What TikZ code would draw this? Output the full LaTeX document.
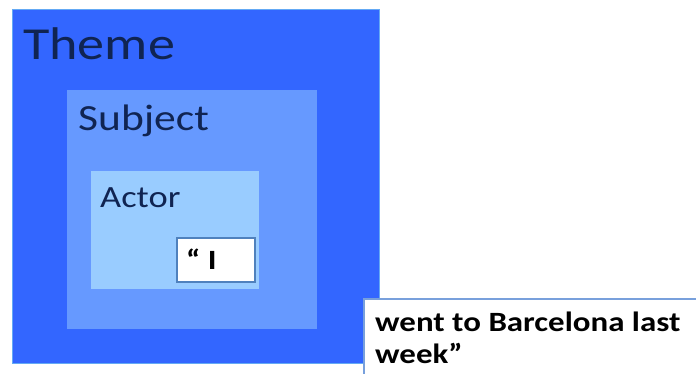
\documentclass[tikz,border=0pt]{standalone}
\usepackage{fontspec}
\setmainfont{Carlito}[FakeStretch=1.18]
\definecolor{themefill}{RGB}{51,102,255}
\definecolor{themeedge}{RGB}{100,170,245}
\definecolor{subjfill}{RGB}{102,153,255}
\definecolor{actfill}{RGB}{153,204,255}
\definecolor{labtext}{RGB}{16,36,82}
\definecolor{boxedge}{RGB}{79,129,189}
\definecolor{textedge}{RGB}{120,160,220}
\tikzset{
  area/.style={anchor=north west, inner sep=0pt, outer sep=0pt},
  lab/.style={anchor=base west, inner sep=0pt, text=labtext},
}
\begin{document}
\begin{tikzpicture}[x=1bp,y=-1bp]
\useasboundingbox (0,0) rectangle (696,373);
\fill[white] (0,0) rectangle (696,373);
\node (theme) [area, fill=themefill, draw=themeedge, line width=1bp, minimum width=367bp, minimum height=354bp] at (12,9) {};
\node (subject) [area, fill=subjfill, minimum width=250bp, minimum height=239bp] at (67,90) {};
\node (actor) [area, fill=actfill, minimum width=168bp, minimum height=118bp] at (91,171) {};
\node (ibox) [area, fill=white, draw=boxedge, line width=1.5bp, minimum width=78bp, minimum height=44bp] at (177,238) {};
\node (tbox) [area, fill=white, draw=textedge, line width=1.5bp, minimum width=350bp, minimum height=90bp] at (364,299) {};
\node (themelab) [lab, font=\fontsize{46}{50}\selectfont] at (23,59) {Theme};
\node (subjlab) [lab, font=\fontsize{37}{40}\selectfont] at (78,130) {Subject};
\node (actlab) [lab, font=\fontsize{31}{34}\selectfont] at (100,207) {Actor};
\node (itext) [anchor=base west, inner sep=0pt, font=\bfseries\fontsize{28}{32}\selectfont] at (186,269) {“ I};
\node (ttext) [anchor=base west, inner sep=0pt, font=\bfseries\fontsize{28}{32}\selectfont] at (375,331) {went to Barcelona last};
\node (ttext2) [anchor=base west, inner sep=0pt, font=\bfseries\fontsize{28}{32}\selectfont] at (375,363) {week”};
\end{tikzpicture}
\end{document}
